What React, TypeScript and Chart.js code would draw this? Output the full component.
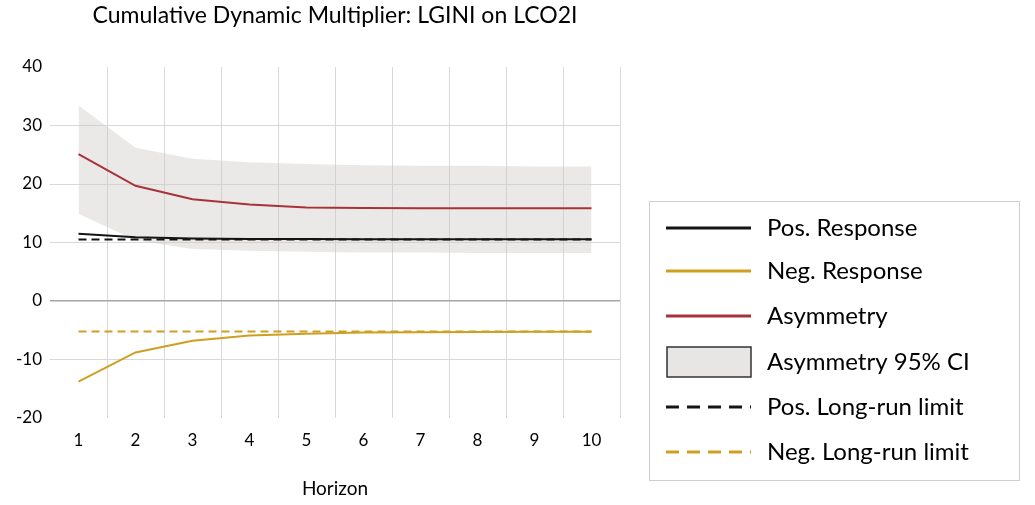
import React, { useEffect, useRef } from "react";
import { Chart, registerables } from "chart.js";

Chart.register(...registerables);

const horizons = ["1", "2", "3", "4", "5", "6", "7", "8", "9", "10"];
const posResponse = [11.5, 10.9, 10.7, 10.6, 10.6, 10.55, 10.55, 10.55, 10.55, 10.55];
const negResponse = [-13.8, -8.8, -6.8, -5.9, -5.6, -5.4, -5.35, -5.3, -5.25, -5.25];
const asymmetry = [25.1, 19.7, 17.4, 16.5, 16.0, 15.9, 15.85, 15.85, 15.85, 15.85];
const ciUpper = [33.4, 26.2, 24.3, 23.7, 23.4, 23.2, 23.1, 23.1, 23.0, 23.0];
const ciLower = [14.9, 10.4, 8.9, 8.6, 8.4, 8.3, 8.3, 8.2, 8.2, 8.2];
const posLimit = [10.5, 10.5, 10.5, 10.5, 10.5, 10.5, 10.5, 10.5, 10.5, 10.5];
const negLimit = [-5.2, -5.2, -5.2, -5.2, -5.2, -5.2, -5.2, -5.2, -5.2, -5.2];
const yTicks = [-20, -10, 0, 10, 20, 30, 40];

const TITLE = "Cumulative Dynamic Multiplier: LGINI on LCO2I";
const FONT = "Lato, 'Open Sans', sans-serif";
const BLACK = "#141414";
const GOLD = "#cf9f22";
const RED = "#a8323a";
const CI_FILL = "rgba(205,200,197,0.4)";

const legendItems = [
  { label: "Pos. Response", type: "line", color: BLACK, dash: [] as number[] },
  { label: "Neg. Response", type: "line", color: GOLD, dash: [] as number[] },
  { label: "Asymmetry", type: "line", color: RED, dash: [] as number[] },
  { label: "Asymmetry 95% CI", type: "box", color: "#333", dash: [] as number[] },
  { label: "Pos. Long-run limit", type: "line", color: BLACK, dash: [13, 8] },
  { label: "Neg. Long-run limit", type: "line", color: GOLD, dash: [13, 8] },
];

const decorPlugin = {
  id: "decor",
  afterDraw(chart: any) {
    const { ctx, chartArea } = chart;
    ctx.save();
    // title
    ctx.fillStyle = "#000";
    ctx.font = `23px ${FONT}`;
    ctx.textAlign = "center";
    ctx.textBaseline = "middle";
    ctx.fillText(TITLE, (chartArea.left + chartArea.right) / 2, 16);

    // legend box
    const bx = 649, by = 201, bw = 370, bh = 279;
    ctx.strokeStyle = "#cfcfcf";
    ctx.lineWidth = 1;
    ctx.strokeRect(bx + 0.5, by + 0.5, bw, bh);
    const rowY = [228, 271, 316, 362, 407, 452];
    legendItems.forEach((it, i) => {
      const y = rowY[i];
      if (it.type === "line") {
        ctx.beginPath();
        ctx.setLineDash(it.dash);
        ctx.strokeStyle = it.color;
        ctx.lineWidth = 3;
        ctx.moveTo(666, y);
        ctx.lineTo(751, y);
        ctx.stroke();
        ctx.setLineDash([]);
      } else {
        ctx.fillStyle = "#e8e6e4";
        ctx.fillRect(667, y - 15, 84, 30);
        ctx.strokeStyle = it.color;
        ctx.lineWidth = 1.5;
        ctx.strokeRect(667, y - 15, 84, 30);
      }
      ctx.fillStyle = "#000";
      ctx.font = `24px ${FONT}`;
      ctx.textAlign = "left";
      ctx.textBaseline = "middle";
      ctx.fillText(it.label, 767, y);
    });
    ctx.restore();
  },
};

export default function App() {
  const ref = useRef<HTMLCanvasElement | null>(null);
  useEffect(() => {
    if (!ref.current) return;
    const chart = new Chart(ref.current, {
      type: "line",
      data: {
        labels: horizons,
        datasets: [
          { label: "Pos. Response", data: posResponse, borderColor: BLACK, borderWidth: 2, pointRadius: 0, fill: false },
          { label: "Pos. Long-run limit", data: posLimit, borderColor: BLACK, borderWidth: 2, borderDash: [8, 5], pointRadius: 0, fill: false },
          { label: "Neg. Response", data: negResponse, borderColor: GOLD, borderWidth: 2, pointRadius: 0, fill: false },
          { label: "Neg. Long-run limit", data: negLimit, borderColor: GOLD, borderWidth: 2, borderDash: [8, 5], pointRadius: 0, fill: false },
          { label: "Asymmetry", data: asymmetry, borderColor: RED, borderWidth: 2, pointRadius: 0, fill: false },
          { label: "CI upper", data: ciUpper, borderColor: "rgba(0,0,0,0)", borderWidth: 0, pointRadius: 0, fill: "+1", backgroundColor: CI_FILL },
          { label: "CI lower", data: ciLower, borderColor: "rgba(0,0,0,0)", borderWidth: 0, pointRadius: 0, fill: false },
        ],
      },
      options: {
        responsive: false,
        animation: false,
        events: [],
        layout: { padding: { top: 67, right: 415, left: 0, bottom: 0 } },
        plugins: {
          legend: { display: false },
          title: { display: false },
          tooltip: { enabled: false },
        },
        scales: {
          x: {
            type: "category",
            offset: true,
            afterFit: (s: any) => { s.height = 87; },
            grid: {
              offset: true,
              drawTicks: false,
              color: (c: any) => (c.index === 0 || c.index === horizons.length ? "rgba(0,0,0,0)" : "#d9d9d9"),
              lineWidth: 1,
            },
            border: { display: false },
            ticks: { color: "#000", font: { family: FONT, size: 17 }, padding: 12 },
            title: { display: true, text: "Horizon", color: "#000", font: { family: FONT, size: 19 }, padding: { top: 0, bottom: 5 } },
          },
          y: {
            min: yTicks[0],
            max: yTicks[yTicks.length - 1],
            afterFit: (s: any) => { s.width = 50; },
            afterBuildTicks: (s: any) => { s.ticks = yTicks.map((v) => ({ value: v })); },
            grid: {
              drawTicks: false,
              color: (c: any) => {
                const v = c.tick ? c.tick.value : null;
                if (v === yTicks[0] || v === yTicks[yTicks.length - 1]) return "rgba(0,0,0,0)";
                if (v === 0) return "#a6a6a6";
                return "#d9d9d9";
              },
              lineWidth: (c: any) => (c.tick && c.tick.value === 0 ? 1.5 : 1),
            },
            border: { display: false },
            ticks: { color: "#000", font: { family: FONT, size: 17 }, padding: 8 },
          },
        },
      },
      plugins: [decorPlugin],
    });
    return () => chart.destroy();
  }, []);
  return (
    <div style={{ position: "absolute", left: 0, top: 0, width: 1035, height: 505, background: "#fff" }}>
      <canvas ref={ref} width={1035} height={505} />
    </div>
  );
}
